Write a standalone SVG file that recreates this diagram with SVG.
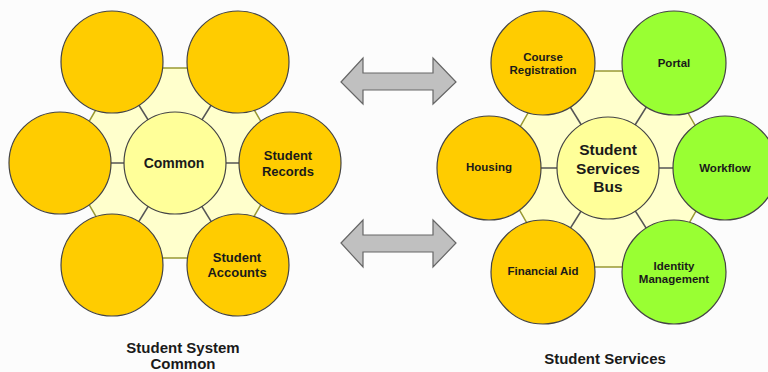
<svg xmlns="http://www.w3.org/2000/svg" width="768" height="372" viewBox="0 0 768 372">
  <style>
    .hex { fill: #FFFFCC; stroke: #999933; stroke-width: 1.5; }
    .spoke { stroke: #555555; stroke-width: 1.5; }
    .gold { fill: #FFCC00; stroke: #444444; stroke-width: 1.2; }
    .green { fill: #99FF33; stroke: #444444; stroke-width: 1.2; }
    .hub { fill: #FFFF99; stroke: #444444; stroke-width: 1.2; }
    .arrow { fill: #C0C0C0; stroke: #666666; stroke-width: 1.2; stroke-linejoin: miter; }
    text { font-family: "Liberation Sans", Arial, sans-serif; font-weight: bold; fill: #1a1a1a; text-anchor: middle; dominant-baseline: central; }
    .lbl { font-size: 13px; }
    .sm { font-size: 11.5px; }
    .hubtxt { font-size: 14px; }
    .big { font-size: 15.5px; }
    .cap { font-size: 15px; }
  </style>
  <rect width="768" height="372" fill="#FCFCFC"/>

  <!-- left cluster backdrop -->
  <g id="left-backdrop">
    <polygon class="hex" points="120,68 230,68 285,163 230,258 120,258 65,163"/>
  </g>
  <!-- right cluster backdrop -->
  <g id="right-backdrop">
    <polygon class="hex" points="552,71 664,71 720,169 664,267 552,267 496,169"/>
  </g>

  <g id="connectors">
    <!-- left spokes -->
    <line class="spoke" x1="175" y1="163" x2="112" y2="62"/>
    <line class="spoke" x1="175" y1="163" x2="238" y2="62"/>
    <line class="spoke" x1="175" y1="163" x2="60" y2="163"/>
    <line class="spoke" x1="175" y1="163" x2="290" y2="163"/>
    <line class="spoke" x1="175" y1="163" x2="112" y2="265"/>
    <line class="spoke" x1="175" y1="163" x2="238" y2="265"/>
    <!-- right spokes -->
    <line class="spoke" x1="608" y1="168" x2="543" y2="63"/>
    <line class="spoke" x1="608" y1="168" x2="674" y2="63"/>
    <line class="spoke" x1="608" y1="168" x2="489" y2="168"/>
    <line class="spoke" x1="608" y1="168" x2="725" y2="168"/>
    <line class="spoke" x1="608" y1="168" x2="543" y2="272"/>
    <line class="spoke" x1="608" y1="168" x2="674" y2="272"/>
    <!-- exchange arrows -->
    <polygon class="arrow" points="341,82 363,58 363,73 433,73 433,58 456,82 433,104 433,90 363,90 363,104"/>
    <polygon class="arrow" points="341,243 363,220 363,235 433,235 433,220 456,243 433,267 433,252 363,252 363,267"/>
  </g>

  <!-- left cluster nodes -->
  <g id="node-l-topleft"><circle class="gold" cx="112" cy="62" r="51"/></g>
  <g id="node-l-topright"><circle class="gold" cx="238" cy="62" r="51"/></g>
  <g id="node-l-left"><circle class="gold" cx="60" cy="163" r="51"/></g>
  <g id="node-student-records">
    <circle class="gold" cx="290" cy="163" r="51"/>
    <text class="lbl" x="288" y="155">Student</text>
    <text class="lbl" x="288" y="171">Records</text>
  </g>
  <g id="node-l-bottomleft"><circle class="gold" cx="112" cy="265" r="51"/></g>
  <g id="node-student-accounts">
    <circle class="gold" cx="238" cy="265" r="51"/>
    <text class="lbl" x="237" y="257">Student</text>
    <text class="lbl" x="237" y="272">Accounts</text>
  </g>
  <g id="node-common">
    <circle class="hub" cx="175" cy="163" r="51"/>
    <text class="hubtxt" x="174" y="163">Common</text>
  </g>

  <!-- right cluster nodes -->
  <g id="node-course-registration">
    <circle class="gold" cx="543" cy="63" r="52"/>
    <text class="sm" x="543" y="57">Course</text>
    <text class="sm" x="543" y="70">Registration</text>
  </g>
  <g id="node-portal">
    <circle class="green" cx="674" cy="63" r="52"/>
    <text class="sm" x="674" y="63">Portal</text>
  </g>
  <g id="node-housing">
    <circle class="gold" cx="489" cy="168" r="52"/>
    <text class="sm" x="489" y="167">Housing</text>
  </g>
  <g id="node-workflow">
    <circle class="green" cx="725" cy="168" r="52"/>
    <text class="sm" x="725" y="168">Workflow</text>
  </g>
  <g id="node-financial-aid">
    <circle class="gold" cx="543" cy="272" r="52"/>
    <text class="sm" x="543" y="271">Financial Aid</text>
  </g>
  <g id="node-identity-management">
    <circle class="green" cx="674" cy="272" r="52"/>
    <text class="sm" x="674" y="266">Identity</text>
    <text class="sm" x="674" y="279">Management</text>
  </g>
  <g id="node-student-services-bus">
    <circle class="hub" cx="608" cy="168" r="51"/>
    <text class="big" x="608" y="149">Student</text>
    <text class="big" x="608" y="168">Services</text>
    <text class="big" x="608" y="186">Bus</text>
  </g>

  <!-- captions -->
  <text class="cap" x="183" y="347">Student System</text>
  <text class="cap" x="183" y="363">Common</text>
  <text class="cap" x="605" y="358">Student Services</text>
</svg>
